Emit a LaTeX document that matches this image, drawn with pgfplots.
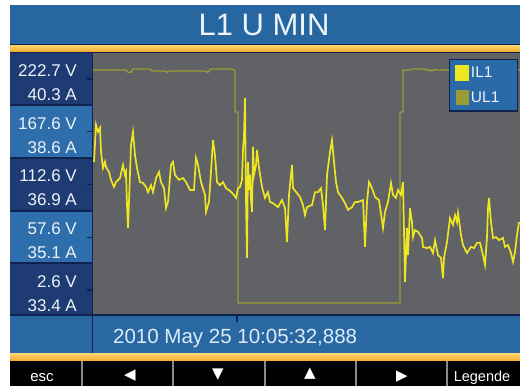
\documentclass[border=0pt]{standalone}
\usepackage{pgfplots}
\pgfplotsset{compat=1.18}
\usepackage{fontspec}
\setmainfont{Liberation Sans}
\newfontfamily\symfont{DejaVu Sans}
\definecolor{titleblue}{HTML}{2767A1}
\definecolor{navy}{HTML}{12224E}
\definecolor{darkbox}{HTML}{1F3B73}
\definecolor{lightbox}{HTML}{2E6EAC}
\definecolor{barblue}{HTML}{2968A3}
\definecolor{legendblue}{HTML}{2B6AA8}
\definecolor{plotgray}{HTML}{606266}
\definecolor{ilyellow}{HTML}{EEE620}
\definecolor{ulolive}{HTML}{9C9C34}
\definecolor{orangetop}{HTML}{FAD26A}
\definecolor{orangebot}{HTML}{F2A92A}
\definecolor{sepgray}{HTML}{8A8A8A}
\definecolor{labelwhite}{HTML}{EEF3F8}
\definecolor{datewhite}{HTML}{DDEBF6}
\newcommand\tl{\fontsize{17}{24}\selectfont}

\pgfplotstableread{
x A
94 37.59
96 38.80
98 38.57
100 38.70
101 37.91
103 37.39
105 37.59
106 37.42
109 37.26
111 37.00
114 36.77
116 36.93
120 37.06
123 37.49
125 37.16
126 37.26
127 36.18
128 35.43
129 36.28
131 38.14
133 38.57
135 37.81
137 37.39
140 36.93
143 36.90
146 36.77
148 36.60
151 36.83
153 36.60
156 37.06
159 37.26
161 36.93
164 36.73
166 36.08
168 36.28
171 37.49
173 37.59
175 37.16
179 37.00
183 37.06
186 36.93
190 36.67
194 36.67
196 37.72
198 37.49
201 36.93
205 36.51
206 35.95
209 36.28
211 37.26
213 38.30
215 37.81
217 36.93
220 36.83
223 36.93
226 36.73
230 36.64
233 36.54
236 36.41
238 36.73
240 36.77
242 37.00
243 37.98
244 38.47
245 39.68
246 36.34
247 34.45
248 37.59
249 36.67
250 37.16
251 36.34
252 35.95
253 38.08
254 37.16
256 37.49
257 37.98
259 37.39
262 36.77
265 36.41
268 36.60
270 36.28
273 36.24
278 36.11
282 36.34
285 36.08
287 34.97
289 36.51
292 37.49
293 36.73
297 36.57
300 36.44
303 36.18
305 35.85
307 36.11
312 36.18
315 36.60
318 36.60
321 36.73
323 36.18
325 35.36
327 37.16
330 37.91
332 38.30
334 37.59
336 36.93
338 36.60
342 36.41
345 36.24
348 36.02
352 36.11
355 36.28
358 36.28
363 36.34
365 34.81
367 36.28
369 36.93
372 36.73
375 36.44
379 36.34
383 35.43
385 35.95
388 36.28
391 36.90
393 36.51
396 36.41
398 36.67
401 36.51
403 36.93
404 35.30
405 33.66
407 35.43
408 34.54
410 36.08
412 35.62
413 35.13
415 35.36
418 35.30
422 35.10
423 34.81
427 34.77
430 34.81
433 34.61
435 35.03
438 34.54
441 34.45
443 33.79
444 34.45
447 34.97
450 35.75
453 35.53
455 35.85
457 35.62
458 35.92
461 35.20
463 34.87
467 34.61
471 34.81
474 34.77
477 34.94
480 34.94
483 34.54
485 34.22
487 35.13
488 36.08
489 36.41
491 35.62
493 35.10
496 35.13
499 35.03
503 35.10
505 34.81
508 34.87
511 34.61
513 34.32
515 34.64
517 35.20
519 35.62
}\ILone

\pgfplotstableread{
x V
93 232.1
112 232.1
126 232.1
128 229.7
131 229.7
133 233.1
150 233.1
152 231.0
165 231.0
167 229.7
170 231.0
205 231.0
208 229.7
211 233.1
232 233.1
235 231.0
235 188.3
238 188.3
238 -11.0
400 -11.0
400 188.3
403 188.3
403 232.1
410 232.1
412 233.1
425 233.1
428 231.5
430 232.5
432 231.0
434 232.6
437 232.1
450 232.1
520 232.1
}\ULone

\begin{document}
\begin{tikzpicture}
\begin{scope}[x=1pt,y=1pt]
\useasboundingbox (0,0) rectangle (520,386);
\fill[white] (0,0) rectangle (520,386);
% title bar
\fill[titleblue] (10,341) rectangle (520,381);
\shade[top color=orangetop, bottom color=orangebot] (10,334) rectangle (520,340.5);
\fill[navy] (10,340.5) rectangle (520,341.5);
\fill[navy] (10,332.5) rectangle (520,334);
% plot background
\fill[plotgray] (93,71) rectangle (520,333);
% left boxes
\fill[darkbox] (10,281) rectangle (92,333);
\fill[lightbox] (10,228) rectangle (92,281);
\fill[darkbox] (10,175) rectangle (92,228);
\fill[lightbox] (10,123) rectangle (92,175);
\fill[darkbox] (10,71) rectangle (92,123);
\foreach \yy in {281,228,175,123} {\draw[navy, line width=1.2pt] (10,\yy) -- (92,\yy);}
\draw[navy, line width=1.4pt] (92.3,33) -- (92.3,333);
% bottom bar
\fill[barblue] (10,33) rectangle (520,71);
\draw[navy, line width=1.4pt] (10,71) -- (520,71);
\draw[navy, line width=1.4pt] (92.3,33) -- (92.3,71);
\draw[navy, line width=1.2pt] (237,71) -- (237,64);
\fill[navy] (10,32) rectangle (520,33.2);
\shade[top color=orangetop, bottom color=orangebot] (10,25) rectangle (520,32);
% button bar
\fill[black] (10,0) rectangle (520,25);
\foreach \xx in {82,173,265,356,447} {\draw[sepgray, line width=1.3pt] (\xx,0) -- (\xx,25);}
% texts
\node[anchor=base, text=labelwhite, font=\fontsize{31}{31}\selectfont, inner sep=0pt] at (264,350) {L1 U MIN};
\node[anchor=base west, text=datewhite, font=\fontsize{20.5}{20.5}\selectfont, inner sep=0pt] at (113,42) {2010 May 25 10:05:32,888};
\node[anchor=base, text=white, font=\fontsize{15}{15}\selectfont, inner sep=0pt] at (42,5) {esc};
\node[anchor=base, text=white, font=\fontsize{14.5}{14.5}\selectfont, inner sep=0pt] at (482,5) {Legende};
\node[text=white, font=\symfont\fontsize{15}{15}\selectfont, inner sep=0pt] at (130,10) {◀};
\node[text=white, font=\symfont\fontsize{15}{15}\selectfont, inner sep=0pt] at (218,11) {▼};
\node[text=white, font=\symfont\fontsize{15}{15}\selectfont, inner sep=0pt] at (310,12) {▲};
\node[text=white, font=\symfont\fontsize{15}{15}\selectfont, inner sep=0pt] at (402,9.5) {▶};
\end{scope}

\begin{axis}[
  at={(93pt,71pt)}, anchor=south west,
  width=427pt, height=262pt, scale only axis,
  xmin=93, xmax=520, ymin=-23.48, ymax=249.82,
  axis line style={draw=none},
  xtick=\empty,
  ytick={2.6,57.6,112.6,167.6,222.7},
  yticklabels={{2.6 V\\33.4 A},{57.6 V\\35.1 A},{112.6 V\\36.9 A},{167.6 V\\38.6 A},{222.7 V\\40.3 A}},
  ytick pos=left,
  tick align=outside,
  major tick length=6pt,
  ytick style={draw=navy, line width=1.3pt},
  yticklabel style={align=right, font=\tl, text=labelwhite, inner sep=0pt, yshift=-3.6pt, xshift=-10pt},
]
\addplot[color=ulolive, line width=1.3pt] table[x=x, y=V] {\ULone};
\end{axis}

\begin{axis}[
  at={(93pt,71pt)}, anchor=south west,
  width=427pt, height=262pt, scale only axis,
  xmin=93, xmax=520, ymin=32.582, ymax=41.150,
  hide axis,
  legend style={at={(0.9953,0.977)}, anchor=north east, fill=legendblue, draw=navy, line width=1.2pt, text=labelwhite, font=\fontsize{15.5}{15.5}\selectfont, inner xsep=6pt, inner ysep=5pt, row sep=9pt, cells={anchor=west}},
  legend image code/.code={\fill[#1] (0pt,-7pt) rectangle (12pt,7pt);},
]
\addplot[color=ilyellow, line width=1.7pt] table[x=x, y=A] {\ILone};
\addlegendentry{IL1\hspace*{10pt}}
\addlegendimage{color=ulolive}
\addlegendentry{UL1\hspace*{10pt}}
\end{axis}
\end{tikzpicture}
\end{document}
